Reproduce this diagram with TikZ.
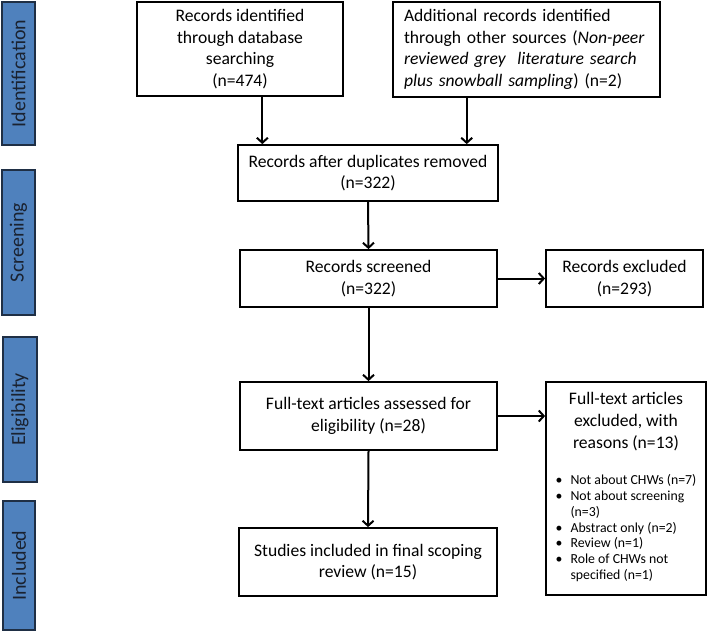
\documentclass[tikz,border=0pt]{standalone}
\usepackage{fontspec}
\setmainfont{Carlito}
\usepackage{tikz}
\usetikzlibrary{arrows.meta}

\definecolor{barblue}{HTML}{4F81BD}
\definecolor{barframe}{HTML}{1F2F45}
\definecolor{bartext}{HTML}{1A2230}

\begin{document}
\begin{tikzpicture}[x = 1pt, y = -1pt,
    stagebar/.style = {draw = barframe, fill = barblue, line width = 1.8pt, rotate = 90,
      minimum height = 33pt, inner sep = 0pt, text = bartext,
      font = \fontsize{20}{23}\selectfont},
    flowbox/.style = {draw, line width = 1.8pt, align = center, inner sep = 4pt,
      font = \fontsize{17.6}{21.6}\selectfont},
    flowarrow/.style = {line width = 2pt, -{Straight Barb[length = 5pt, width = 11pt, line width = 2pt]}}]
    \useasboundingbox (0,0) rectangle (708,632);

    % stage labels on the left
    \node[stagebar, minimum width = 143pt](identification) at (18.5,73.5) {Identification};
    \node[stagebar, minimum width = 145pt](screening) at (18.5,242.5) {Screening};
    \node[stagebar, minimum width = 145pt, minimum height = 34pt](eligibility) at (20,409.5) {Eligibility};
    \node[stagebar, minimum width = 129pt, minimum height = 32pt](included) at (19,565.5) {Included};

    % boxes
    \node[flowbox, minimum width = 206pt, minimum height = 94pt](database) at (240,49) {Records identified\\through database\\searching\\(n=474)};
    \node[flowbox, text width = 245pt, inner xsep = 11pt, minimum height = 95pt, align = left](otherSources) at (526.5,49.5) {Additional records identified\\through other sources (\textit{Non-peer}\\\textit{reviewed grey~ literature search}\\\textit{plus snowball sampling}) (n=2)};
    \node[flowbox, minimum width = 260pt, minimum height = 56pt](deduplicated) at (368,173) {Records after duplicates removed\\(n=322)};
    \node[flowbox, minimum width = 257pt, minimum height = 57pt](screened) at (368.5,278.5) {Records screened\\(n=322)};
    \node[flowbox, minimum width = 157pt, minimum height = 57pt](excluded) at (624.5,278.5) {Records excluded\\(n=293)};
    \node[flowbox, minimum width = 257pt, minimum height = 68pt](fullText) at (368.5,416) {Full-text articles assessed for\\eligibility (n=28)};
    \node[flowbox, minimum width = 160pt, minimum height = 213pt](fullTextExcluded) at (626,488.5) {Full-text articles\\excluded, with\\reasons (n=13)\\[15pt]
      {\fontsize{13.8}{15.8}\selectfont\begin{tabular}[t]{@{}c@{\hspace{8pt}}l@{}}
        \textbullet & Not about CHWs (n=7)\\
        \textbullet & Not about screening\\
         & (n=3)\\
        \textbullet & Abstract only (n=2)\\
        \textbullet & Review (n=1)\\
        \textbullet & Role of CHWs not\\
         & specified (n=1)
      \end{tabular}}};
    \node[flowbox, minimum width = 258pt, minimum height = 68pt](includedStudies) at (368,562) {Studies included in final scoping\\review (n=15)};

    % arrows
    \draw [flowarrow] (database.-65) -- (database.-65 |- deduplicated.north);
    \draw [flowarrow] (otherSources.-141) -- (otherSources.-141 |- deduplicated.north);
    \draw [flowarrow] (deduplicated.south) -- (screened.north);
    \draw [flowarrow] (screened.east) -- (excluded.west);
    \draw [flowarrow] (screened.south) -- (fullText.north);
    \draw [flowarrow] (fullText.east) -- (fullText.east -| fullTextExcluded.west);
    \draw [flowarrow] (fullText.south) -- (includedStudies.north);
\end{tikzpicture}
\end{document}
